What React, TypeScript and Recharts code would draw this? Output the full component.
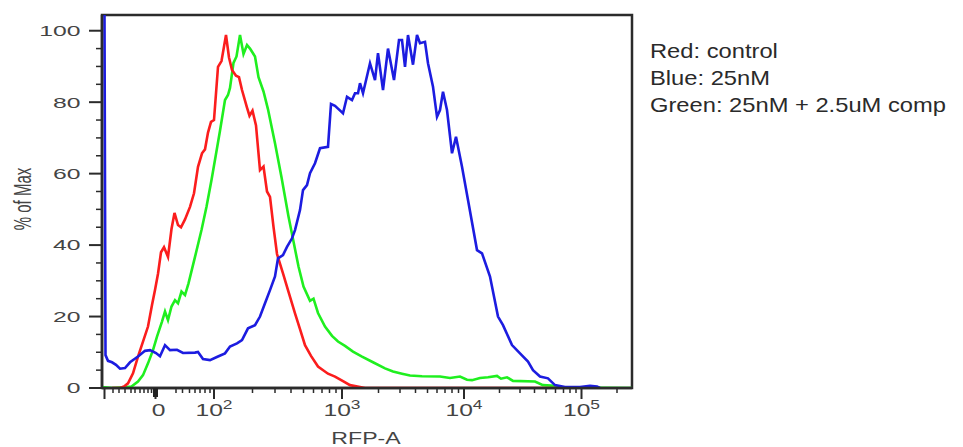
import { LineChart, Line, XAxis, YAxis, ReferenceArea } from 'recharts';

// plot box inside the 963x447 picture
const PLOT = { left: 102, right: 632, top: 15, bottom: 388 };
const FONT = '"Liberation Sans", Arial, Helvetica, sans-serif';

// x: display channel (0..1060 across the axis), y: % of Max
const redPts: [number, number][] = [
  [20, 0], [36, 0], [44, 0.4], [52, 1.3], [62, 4.1], [72, 8.8], [82, 13], [92, 17.2], [100, 23.2], [106, 27.4],
  [112, 32], [118, 38], [124, 39.4], [132, 36.7], [139, 44.5], [145, 49], [152, 45.6], [158, 45], [166, 47.2], [176, 50.7],
  [184, 54.5], [192, 61.9], [200, 65.7], [206, 66.8], [212, 71.5], [218, 74.5], [224, 75], [232, 89.9], [239, 91.5], [248, 98.8],
  [254, 92.5], [260, 89], [268, 87.4], [274, 87], [280, 83.4], [290, 78.5], [295, 76.2], [301, 77.6], [308, 73.5], [316, 61],
  [323, 62], [330, 55], [336, 53.5], [343, 45.1], [350, 37.5], [362, 32.1], [372, 27.4], [386, 20.9], [396, 16.5], [406, 12],
  [418, 9], [432, 6], [452, 4], [466, 3.2], [482, 1.9], [496, 0.8], [516, 0.3], [526, 0], [960, 0],
];

const bluePts: [number, number][] = [
  [5, 104.4], [7, 9.2], [12, 7.6], [20, 7.2], [28, 6.5], [36, 5.4], [46, 5.6], [56, 7.2], [72, 8.8], [86, 10.4],
  [96, 10.6], [108, 9.8], [116, 8.9], [126, 12], [136, 10.6], [150, 10.7], [162, 9.8], [186, 9.9], [192, 10.1], [202, 8.1],
  [216, 7.8], [232, 8.8], [246, 9.7], [256, 11.6], [270, 12.5], [280, 13.4], [292, 16.7], [306, 17.6], [316, 20], [326, 23.7],
  [336, 27.4], [346, 31.2], [352, 36.3], [362, 37.2], [370, 39.5], [380, 41.9], [386, 44.2], [396, 49.8], [402, 55.4], [410, 56.8],
  [416, 60.1], [426, 62.9], [436, 67.1], [452, 67.5], [458, 79.5], [466, 79], [472, 78.2], [482, 76.9], [490, 81.5], [500, 80.6],
  [506, 82.5], [512, 82.5], [516, 85.3], [522, 82.5], [536, 90.9], [546, 86.2], [552, 93.7], [562, 83.4], [572, 95], [584, 86.2],
  [594, 97.4], [600, 97.4], [606, 89.9], [612, 98.8], [622, 90.5], [630, 98.8], [636, 96.5], [646, 96.9], [652, 90.9], [662, 84.3],
  [670, 75.9], [676, 77.8], [682, 82.9], [690, 77.8], [700, 65.7], [708, 70.3], [720, 61.9], [732, 52.6], [750, 38.6], [760, 37.7],
  [776, 31.2], [792, 20], [802, 17.6], [820, 12], [836, 9.7], [852, 7.4], [862, 5], [876, 3.2], [892, 2.7], [906, 0.8],
  [926, 0.3], [956, 0.3], [976, 0.6], [990, 0.4], [996, 0],
];

const greenPts: [number, number][] = [
  [0, 0.3], [20, 0], [46, 0.2], [59, 0.4], [72, 1.8], [82, 3.6], [92, 6.9], [102, 10.6], [110, 14.4], [120, 18.6],
  [126, 21.4], [132, 19], [139, 22.8], [146, 24.6], [152, 23.7], [159, 27], [166, 26], [173, 29.3], [186, 36.7], [199, 44.2],
  [209, 50.7], [219, 58.2], [228, 65.5], [236, 72], [246, 80.6], [252, 82], [256, 84], [263, 91], [269, 92.8], [276, 98.8],
  [283, 93.5], [290, 96], [296, 95], [306, 92.8], [313, 87], [323, 83], [332, 78], [346, 68.5], [359, 59], [373, 48],
  [383, 41], [393, 34], [403, 28.4], [416, 24.4], [423, 25], [432, 21], [446, 17.2], [460, 14.6], [472, 13], [486, 11.8],
  [502, 10.2], [520, 8.8], [542, 7.2], [566, 5.5], [582, 4.6], [600, 4], [616, 3.5], [640, 3.3], [676, 3.2], [696, 2.8],
  [716, 3.2], [730, 2.3], [740, 2.2], [756, 2.8], [772, 3], [790, 3.4], [798, 2.6], [810, 3], [822, 2], [866, 1.8],
  [882, 0.8], [906, 0.6], [920, 0.1], [1060, 0],
];

// axis ticks (channels) and labels
const majorX = [5, 107, 224, 480, 724, 959];
const xLabels: Record<number, [string, string]> = {
  107: ['0', ''],
  224: ['10', '2'],
  480: ['10', '3'],
  724: ['10', '4'],
  959: ['10', '5'],
};
const linearMinorX = [22, 34, 46, 58, 66, 76, 84, 92, 99, 148, 161, 175, 186, 196, 206, 216];
const decadeStart = [224, 480, 724, 959];
const decadeWidth = [256, 244, 235, 235];
const yTicks = [0, 5, 10, 15, 20, 25, 30, 35, 40, 45, 50, 55, 60, 65, 70, 75, 80, 85, 90, 95, 100];

const legendLines = ['Red: control', 'Blue: 25nM', 'Green: 25nM + 2.5uM comp'];

const X_MAX = 1060;
const Y_MAX = 104.4;

const logMinorX = decadeStart.flatMap((start, i) =>
  [2, 3, 4, 5, 6, 7, 8, 9].map((m) => Math.round(start + Math.log10(m) * decadeWidth[i]))
).filter((c) => c < X_MAX);

const xTicks = [...majorX, ...linearMinorX, ...logMinorX].sort((a, b) => a - b);

const toRows = (pts: [number, number][]) => pts.map(([ch, v]) => ({ ch, v }));

const frame = { stroke: '#2b2b2b', strokeWidth: 2.5 };

function XTick(props: any) {
  const { x, payload } = props;
  const v = payload.value;
  const major = majorX.includes(v);
  const lab = xLabels[v];
  return (
    <g>
      <line x1={x} x2={x} y1={PLOT.bottom} y2={PLOT.bottom + (major ? 11 : 5)} stroke="#2b2b2b" strokeWidth={major ? 2 : 1.5} />
      {v === 107 && <rect x={x - 2.5} y={PLOT.bottom} width={5} height={9} fill="#222" />}
      {lab && (
        <g transform={`translate(${x + (v === 107 ? 3 : 0)},415.5) scale(1.45,1)`}>
          <text textAnchor="middle" fontSize={17} fill="#444" fontFamily={FONT}>
            {lab[0]}
            {lab[1] && (
              <tspan dy={-7} fontSize={12}>
                {lab[1]}
              </tspan>
            )}
          </text>
        </g>
      )}
    </g>
  );
}

function YTick(props: any) {
  const { y, payload } = props;
  const v = payload.value;
  const major = v % 20 === 0;
  return (
    <g>
      <line x1={PLOT.left - (major ? 13 : 6)} x2={PLOT.left} y1={y} y2={y} stroke="#2b2b2b" strokeWidth={major ? 2 : 1.5} />
      {major && (
        <g transform={`translate(80.5,${y}) scale(1.65,1)`}>
          <text textAnchor="end" dy="0.36em" fontSize={15} fill="#444" fontFamily={FONT}>
            {v}
          </text>
        </g>
      )}
    </g>
  );
}

const yLabel = () => (
  <g transform="translate(22,199) scale(1.6,1) rotate(-90)">
    <text textAnchor="middle" dy="0.36em" fontSize={15} fill="#444" fontFamily={FONT}>
      % of Max
    </text>
  </g>
);

const xLabel = () => (
  <g transform="translate(366,443.5) scale(1.4,1)">
    <text textAnchor="middle" fontSize={16.5} fill="#444" fontFamily={FONT}>
      RFP-A
    </text>
  </g>
);

export default function App() {
  return (
    <div style={{ position: 'absolute', left: 0, top: 0, width: 963, height: 447, background: '#fff' }}>
      <LineChart
        width={963}
        height={447}
        margin={{ top: PLOT.top, right: 963 - PLOT.right, bottom: 9, left: 42 }}
      >
        <XAxis
          dataKey="ch"
          type="number"
          domain={[0, X_MAX]}
          ticks={xTicks}
          interval={0}
          tick={(p: any) => <XTick {...p} />}
          tickLine={false}
          axisLine={frame}
          height={50}
          allowDataOverflow
          label={xLabel}
        />
        <YAxis
          type="number"
          domain={[0, Y_MAX]}
          ticks={yTicks}
          interval={0}
          tick={(p: any) => <YTick {...p} />}
          tickLine={false}
          axisLine={frame}
          width={60}
          allowDataOverflow
          label={yLabel}
        />
        <ReferenceArea
          x1={0}
          x2={X_MAX}
          y1={0}
          y2={Y_MAX}
          fill="none"
          fillOpacity={0}
          stroke="#2b2b2b"
          strokeWidth={2.5}
          ifOverflow="visible"
        />
        <Line data={toRows(greenPts)} dataKey="v" stroke="#1fef1f" strokeWidth={2.6} dot={false} isAnimationActive={false} />
        <Line data={toRows(redPts)} dataKey="v" stroke="#fb1d1d" strokeWidth={2.6} dot={false} isAnimationActive={false} />
        <Line data={toRows(bluePts)} dataKey="v" stroke="#1c1ce0" strokeWidth={2.6} dot={false} isAnimationActive={false} />
      </LineChart>
      <svg width={963} height={447} style={{ position: 'absolute', left: 0, top: 0, pointerEvents: 'none' }}>
        {legendLines.map((t, i) => (
          <g key={t} transform={`translate(650,${58.3 + i * 26.7}) scale(1.13,1)`}>
            <text fontSize={21} fill="#2a2a2a" fontFamily={FONT}>
              {t}
            </text>
          </g>
        ))}
      </svg>
    </div>
  );
}
